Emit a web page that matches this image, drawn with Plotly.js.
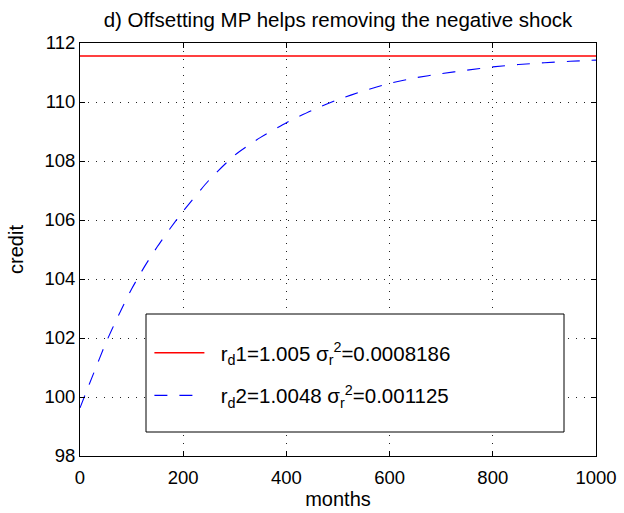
<!DOCTYPE html>
<html>
<head>
<meta charset="utf-8">
<script src="https://cdn.plot.ly/plotly-3.0.1.min.js"></script>
<style>
  html, body { margin: 0; padding: 0; background: #fff; }
  #chart { width: 624px; height: 513px; }
</style>
</head>
<body>
<div id="chart"></div>
<script>
// ---- data ----
const titleText = "d) Offsetting MP helps removing the negative shock";
const xTitle = "months";
const yTitle = "credit";

const months1 = [0, 1000];
const credit1 = [111.56, 111.56];
const name1 = "r<sub>d</sub>1=1.005 σ<sub>r</sub><sup>2</sup>=0.0008186";

const months2 = [0, 10, 25, 50, 75, 100, 125, 150, 175, 200, 250, 300, 350, 400,
                 450, 500, 550, 600, 650, 700, 750, 800, 850, 900, 950, 1000];
const credit2 = [99.63, 100.08, 100.74, 101.83, 102.78, 103.66, 104.42, 105.10, 105.72, 106.30,
                 107.35, 108.20, 108.80, 109.30, 109.72, 110.08, 110.38, 110.63, 110.82, 110.96,
                 111.08, 111.19, 111.27, 111.33, 111.38, 111.42];
const name2 = "r<sub>d</sub>2=1.0048 σ<sub>r</sub><sup>2</sup>=0.001125";

const xTicks = [0, 200, 400, 600, 800, 1000];
const yTicks = [98, 100, 102, 104, 106, 108, 110, 112];

// ---- chart ----
const FONT = "'Liberation Sans', Arial, Helvetica, sans-serif";
const PAD = "\u00a0\u00a0";

const traces = [
  {
    x: months1, y: credit1, name: PAD + name1, type: "scatter", mode: "lines",
    line: { color: "#ff0000", width: 1.3 },
    legendgroup: "a"
  },
  {
    x: months2, y: credit2, name: PAD + name2, type: "scatter", mode: "lines",
    line: { color: "#0000ff", width: 1.1, dash: "13px,12px", shape: "spline", smoothing: 0.6 },
    legendgroup: "b"
  }
];

const axisCommon = {
  showline: true, linecolor: "#000", linewidth: 1, mirror: "allticks",
  ticks: "inside", ticklen: 5, tickcolor: "#000", tickwidth: 1,
  showgrid: true, gridcolor: "#222", gridwidth: 1, griddash: "1px,7px",
  zeroline: false,
  tickfont: { family: FONT, size: 18.5, color: "#000" }
};

const layout = {
  width: 624, height: 513,
  paper_bgcolor: "#fff", plot_bgcolor: "#fff",
  margin: { l: 80, r: 28, t: 43, b: 57 },
  font: { family: FONT, color: "#000" },
  title: {
    text: titleText,
    font: { family: FONT, size: 20.5, color: "#000" },
    x: 0.5, xanchor: "center", xref: "paper",
    y: 1 - 20 / 513, yanchor: "middle", yref: "container"
  },
  xaxis: Object.assign({}, axisCommon, {
    range: [0, 1000], tickvals: xTicks, ticktext: xTicks.map(String),
    ticklabelstandoff: 5,
    title: { text: xTitle, font: { family: FONT, size: 20, color: "#000" }, standoff: 4 }
  }),
  yaxis: Object.assign({}, axisCommon, {
    range: [98, 112], tickvals: yTicks, ticktext: yTicks.map(String),
    title: { text: yTitle, font: { family: FONT, size: 20, color: "#000" }, standoff: 15 }
  }),
  showlegend: true,
  legend: {
    x: 0.1345, xanchor: "left", xref: "paper",
    y: 0.298, yanchor: "top", yref: "paper",
    bgcolor: "rgba(0,0,0,0)", borderwidth: 0,
    font: { family: FONT, size: 20.5, color: "#000" },
    traceorder: "grouped", tracegroupgap: 13,
    itemwidth: 50
  },
  shapes: [
    {
      type: "rect", xref: "paper", yref: "paper",
      x0: (146 - 80) / 516, x1: (564 - 80) / 516,
      y0: (456 - 432) / 413, y1: (456 - 314) / 413,
      fillcolor: "#fff", line: { color: "#000", width: 1 }, layer: "above"
    }
  ]
};

Plotly.newPlot("chart", traces, layout, { staticPlot: true, displayModeBar: false });
</script>
</body>
</html>
